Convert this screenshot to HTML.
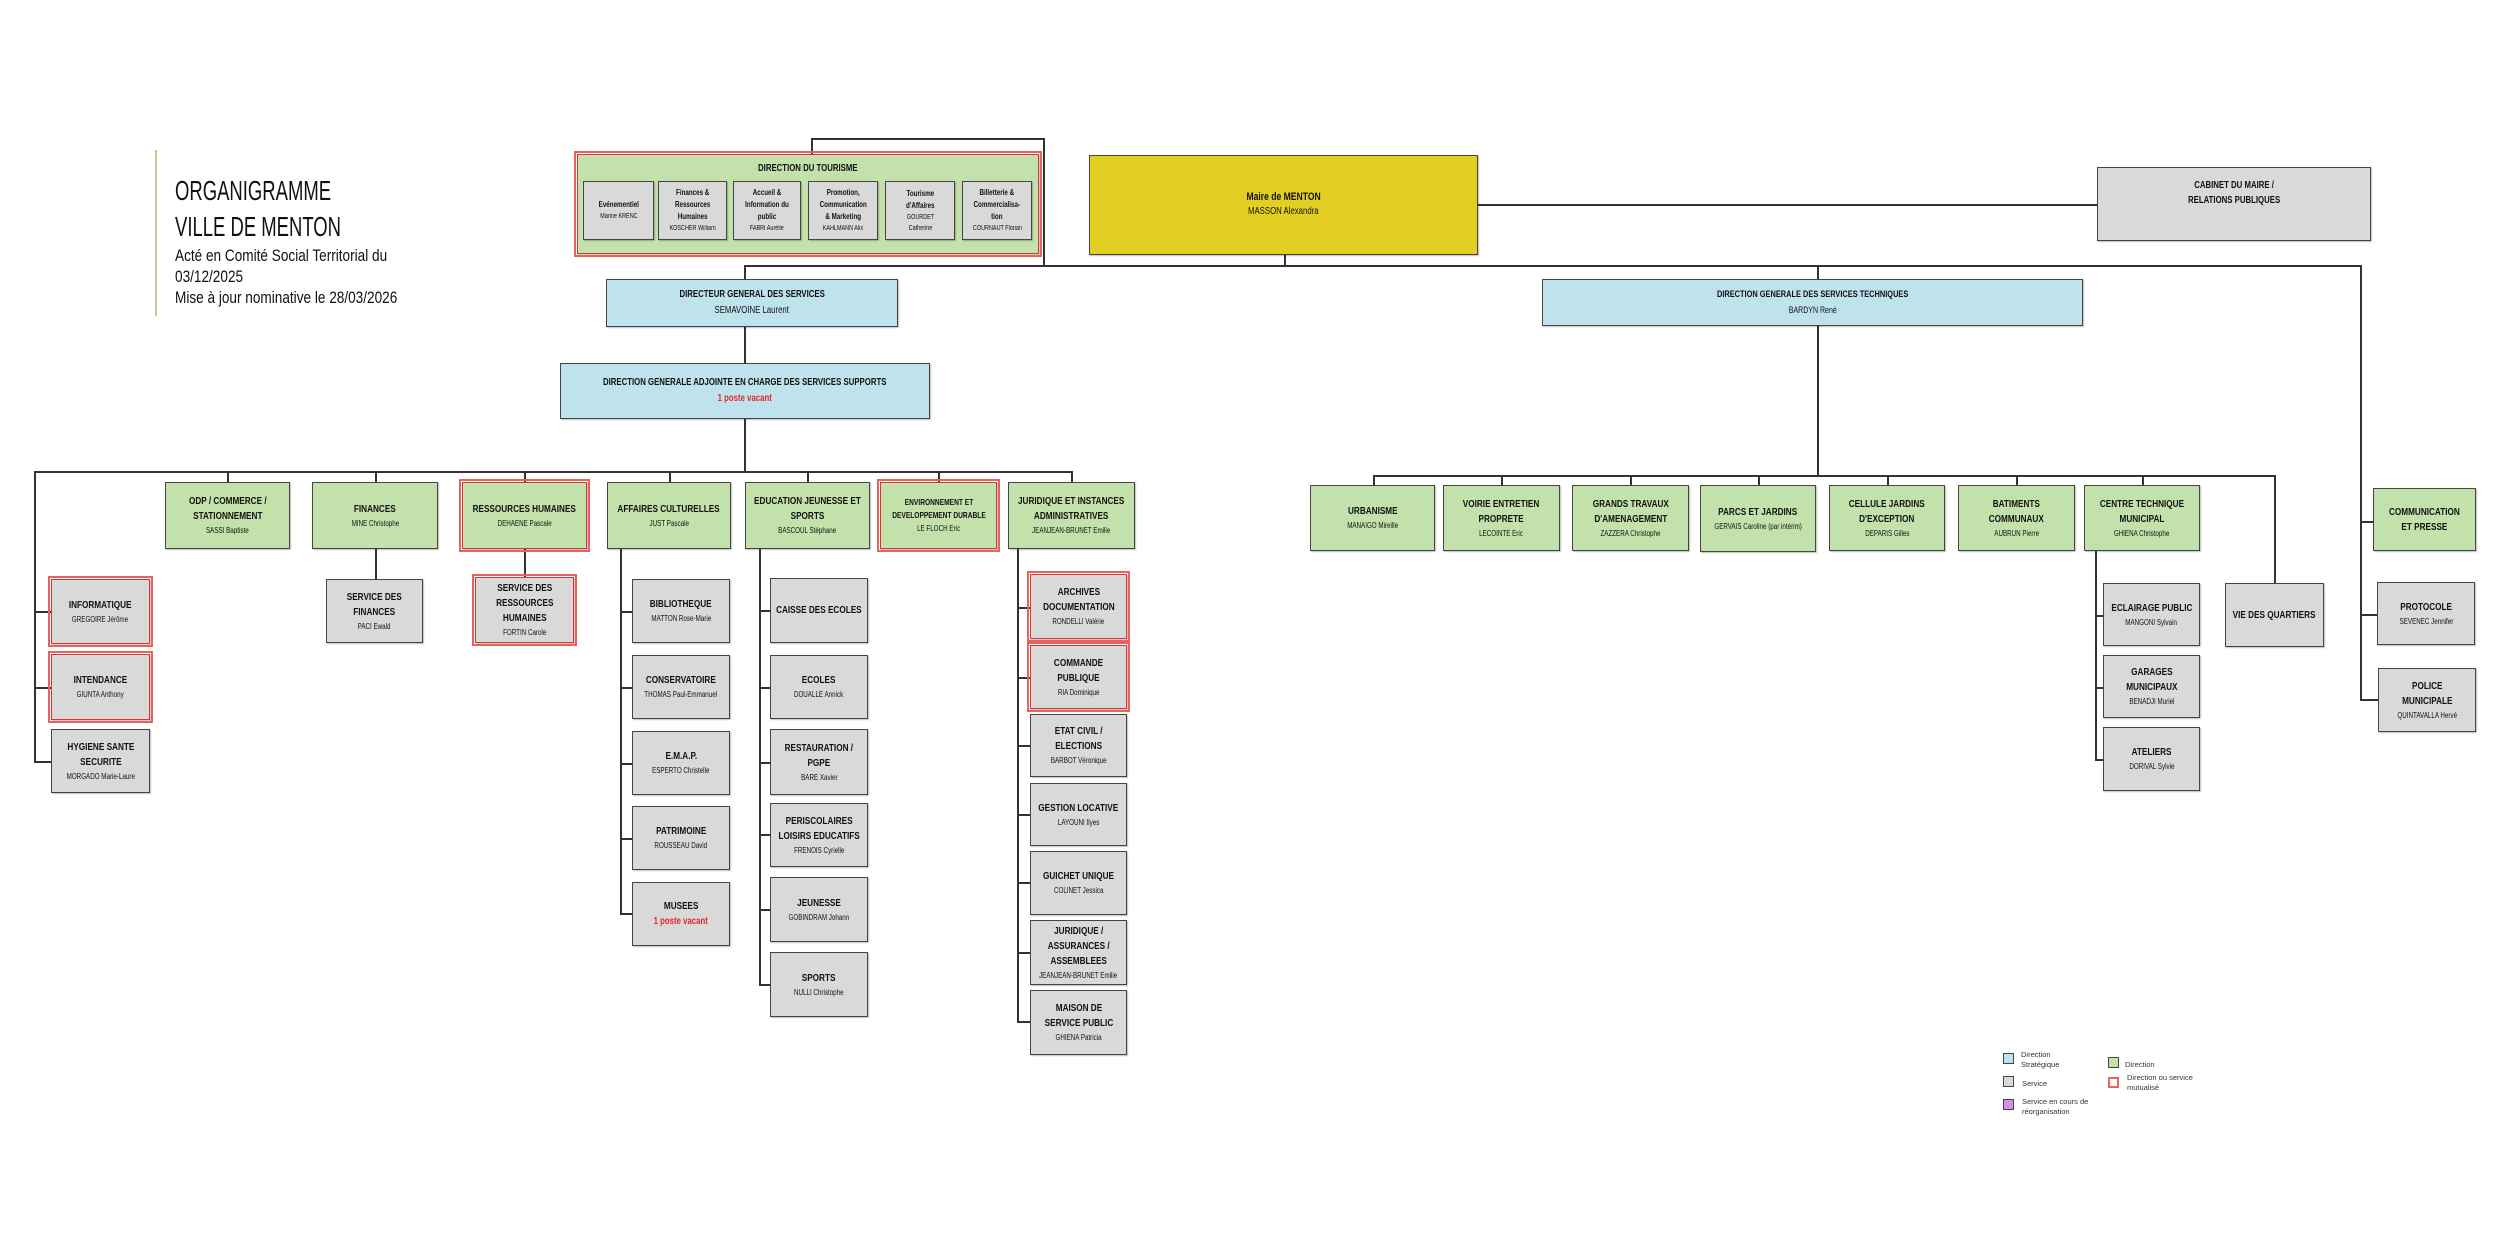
<!DOCTYPE html>
<html><head><meta charset="utf-8">
<style>
body{margin:0;width:2500px;height:1250px;background:#fff;position:relative;overflow:hidden;font-family:"Liberation Sans",sans-serif;color:#111}
.b{position:absolute;display:flex;flex-direction:column;justify-content:center;align-items:center;text-align:center;border:1.5px solid #444;box-sizing:border-box;box-shadow:1px 1px 1px rgba(0,0,0,.25)}
.b>div{white-space:nowrap;transform:scaleX(.78);transform-origin:center}
.g{background:#c3e2ab}.s{background:#d9d9d9}.bl{background:#bfe3ec}
.r{outline:2px solid #e8625f;outline-offset:1px;border-color:#d33}
.t{font-weight:bold;font-size:10.5px;line-height:15px}
.n{font-size:8px;line-height:13px}
.v{color:#e3262b;font-weight:bold;font-size:10px;line-height:15px}
.h{position:absolute;height:1.5px;background:#333}
.w{position:absolute;width:1.5px;background:#333}
.lg{position:absolute;width:11px;height:11px;border:1.5px solid #444;box-sizing:border-box}
.lt{position:absolute;font-family:"Liberation Sans",sans-serif;font-size:7.5px;line-height:10px;color:#333}
.ti{position:absolute;left:175px;white-space:nowrap;transform-origin:left top}
</style></head><body>
<!-- title -->
<div style="position:absolute;left:155px;top:150px;width:2px;height:166px;background:#b5d38a"></div>
<div class="ti" style="top:173px;font-size:28px;line-height:36px;transform:scaleX(.66)">ORGANIGRAMME<br>VILLE DE MENTON</div>
<div class="ti" style="top:245px;font-size:17px;line-height:21px;transform:scaleX(.8)">Acté en Comité Social Territorial du<br>03/12/2025<br>Mise à jour nominative le 28/03/2026</div>

<!-- connectors top -->
<div class="w" style="left:811px;top:138px;height:17px"></div>
<div class="h" style="left:811px;top:138px;width:233px"></div>
<div class="w" style="left:1043px;top:138px;height:128px"></div>
<div class="h" style="left:744px;top:265px;width:1617px"></div>
<div class="w" style="left:1284px;top:255px;height:11px"></div>
<div class="h" style="left:1478px;top:204px;width:620px"></div>
<div class="w" style="left:744px;top:265px;height:14px"></div>
<div class="w" style="left:744px;top:327px;height:36px"></div>
<div class="w" style="left:744px;top:419px;height:53px"></div>
<div class="w" style="left:1817px;top:265px;height:14px"></div>
<div class="w" style="left:1817px;top:326px;height:150px"></div>
<div class="w" style="left:2360px;top:265px;height:435px"></div>

<!-- tourism -->
<div class="b g r" style="left:577px;top:154px;width:462px;height:100px;justify-content:flex-start"><div class="t" style="margin-top:6px;font-size:10px">DIRECTION DU TOURISME</div></div>
<div class="b s" style="left:583px;top:181px;width:71px;height:59px"><div class="t" style="font-size:8px;line-height:12px">Evénementiel</div><div class="n" style="font-size:7px;line-height:11px">Marine KRENC</div></div>
<div class="b s" style="left:658px;top:181px;width:69px;height:59px"><div class="t" style="font-size:8px;line-height:12px">Finances &amp;<br>Ressources<br>Humaines</div><div class="n" style="font-size:7px;line-height:11px">KOSCHER William</div></div>
<div class="b s" style="left:733px;top:181px;width:68px;height:59px"><div class="t" style="font-size:8px;line-height:12px">Accueil &amp;<br>Information du<br>public</div><div class="n" style="font-size:7px;line-height:11px">FABRI Aurélie</div></div>
<div class="b s" style="left:808px;top:181px;width:70px;height:59px"><div class="t" style="font-size:8px;line-height:12px">Promotion,<br>Communication<br>&amp; Marketing</div><div class="n" style="font-size:7px;line-height:11px">KAHLMANN Alix</div></div>
<div class="b s" style="left:885px;top:181px;width:70px;height:59px"><div class="t" style="font-size:8px;line-height:12px">Tourisme<br>d'Affaires</div><div class="n" style="font-size:7px;line-height:11px">GOURDET<br>Catherine</div></div>
<div class="b s" style="left:962px;top:181px;width:70px;height:59px"><div class="t" style="font-size:8px;line-height:12px">Billetterie &amp;<br>Commercialisa-<br>tion</div><div class="n" style="font-size:7px;line-height:11px">COURNAUT Florian</div></div>

<!-- mayor -->
<div class="b" style="left:1089px;top:155px;width:389px;height:100px;background:#e3cf22;justify-content:flex-start"><div class="t" style="font-size:11px;margin-top:34px">Maire de MENTON</div><div class="n" style="font-size:10px;line-height:14px">MASSON Alexandra</div></div>
<div class="b s" style="left:2097px;top:167px;width:274px;height:74px;justify-content:flex-start"><div class="t" style="font-size:10px;margin-top:10px">CABINET DU MAIRE /<br>RELATIONS PUBLIQUES</div></div>

<div class="b bl" style="left:606px;top:279px;width:292px;height:48px"><div class="t" style="font-size:10px">DIRECTEUR GENERAL DES SERVICES</div><div class="n" style="font-size:10px;line-height:17px">SEMAVOINE Laurent</div></div>
<div class="b bl" style="left:560px;top:363px;width:370px;height:56px"><div class="t" style="font-size:10px">DIRECTION GENERALE ADJOINTE EN CHARGE DES SERVICES SUPPORTS</div><div class="v" style="line-height:18px">1 poste vacant</div></div>
<div class="b bl" style="left:1542px;top:279px;width:541px;height:47px"><div class="t" style="font-size:9.5px">DIRECTION GENERALE DES SERVICES TECHNIQUES</div><div class="n" style="font-size:9px;line-height:16px">BARDYN René</div></div>

<!-- supports row -->
<div class="h" style="left:34px;top:471px;width:1038px"></div>
<div class="w" style="left:34px;top:471px;height:291px"></div>
<div class="h" style="left:34px;top:611px;width:17px"></div>
<div class="h" style="left:34px;top:687px;width:17px"></div>
<div class="h" style="left:34px;top:761px;width:17px"></div>
<div class="w" style="left:227px;top:471px;height:11px"></div>
<div class="w" style="left:375px;top:471px;height:108px"></div>
<div class="w" style="left:524px;top:471px;height:106px"></div>
<div class="w" style="left:669px;top:471px;height:11px"></div>
<div class="w" style="left:807px;top:471px;height:11px"></div>
<div class="w" style="left:938px;top:471px;height:11px"></div>
<div class="w" style="left:1071px;top:471px;height:11px"></div>

<div class="b g" style="left:165px;top:482px;width:125px;height:67px"><div class="t">ODP / COMMERCE /<br>STATIONNEMENT</div><div class="n">SASSI Baptiste</div></div>
<div class="b g" style="left:312px;top:482px;width:126px;height:67px"><div class="t">FINANCES</div><div class="n">MINE Christophe</div></div>
<div class="b g r" style="left:462px;top:482px;width:125px;height:67px"><div class="t">RESSOURCES HUMAINES</div><div class="n">DEHAENE Pascale</div></div>
<div class="b g" style="left:607px;top:482px;width:124px;height:67px"><div class="t">AFFAIRES CULTURELLES</div><div class="n">JUST Pascale</div></div>
<div class="b g" style="left:745px;top:482px;width:125px;height:67px"><div class="t">EDUCATION JEUNESSE ET<br>SPORTS</div><div class="n">BASCOUL Stéphane</div></div>
<div class="b g r" style="left:880px;top:482px;width:117px;height:67px"><div class="t" style="font-size:8.5px;line-height:13px">ENVIRONNEMENT ET<br>DEVELOPPEMENT DURABLE</div><div class="n">LE FLOCH Eric</div></div>
<div class="b g" style="left:1008px;top:482px;width:127px;height:67px"><div class="t">JURIDIQUE ET INSTANCES<br>ADMINISTRATIVES</div><div class="n">JEANJEAN-BRUNET Emilie</div></div>

<div class="b s r" style="left:51px;top:579px;width:99px;height:65px"><div class="t">INFORMATIQUE</div><div class="n">GREGOIRE Jérôme</div></div>
<div class="b s r" style="left:51px;top:654px;width:99px;height:66px"><div class="t">INTENDANCE</div><div class="n">GIUNTA Anthony</div></div>
<div class="b s" style="left:51px;top:729px;width:99px;height:64px"><div class="t">HYGIENE SANTE<br>SECURITE</div><div class="n">MORGADO Marie-Laure</div></div>
<div class="b s" style="left:326px;top:579px;width:97px;height:64px"><div class="t">SERVICE DES<br>FINANCES</div><div class="n">PACI Ewald</div></div>
<div class="b s r" style="left:475px;top:577px;width:99px;height:66px"><div class="t">SERVICE DES<br>RESSOURCES<br>HUMAINES</div><div class="n">FORTIN Carole</div></div>

<!-- AC -->
<div class="w" style="left:620px;top:549px;height:365px"></div>
<div class="h" style="left:620px;top:611px;width:12px"></div>
<div class="h" style="left:620px;top:687px;width:12px"></div>
<div class="h" style="left:620px;top:763px;width:12px"></div>
<div class="h" style="left:620px;top:838px;width:12px"></div>
<div class="h" style="left:620px;top:913px;width:12px"></div>
<div class="b s" style="left:632px;top:579px;width:98px;height:64px"><div class="t">BIBLIOTHEQUE</div><div class="n">MATTON Rose-Marie</div></div>
<div class="b s" style="left:632px;top:655px;width:98px;height:64px"><div class="t">CONSERVATOIRE</div><div class="n">THOMAS Paul-Emmanuel</div></div>
<div class="b s" style="left:632px;top:731px;width:98px;height:64px"><div class="t">E.M.A.P.</div><div class="n">ESPERTO Christelle</div></div>
<div class="b s" style="left:632px;top:806px;width:98px;height:64px"><div class="t">PATRIMOINE</div><div class="n">ROUSSEAU David</div></div>
<div class="b s" style="left:632px;top:882px;width:98px;height:64px"><div class="t">MUSEES</div><div class="v">1 poste vacant</div></div>

<!-- EJS -->
<div class="w" style="left:759px;top:549px;height:435px"></div>
<div class="h" style="left:759px;top:610px;width:11px"></div>
<div class="h" style="left:759px;top:687px;width:11px"></div>
<div class="h" style="left:759px;top:762px;width:11px"></div>
<div class="h" style="left:759px;top:834px;width:11px"></div>
<div class="h" style="left:759px;top:909px;width:11px"></div>
<div class="h" style="left:759px;top:984px;width:11px"></div>
<div class="b s" style="left:770px;top:578px;width:98px;height:65px"><div class="t">CAISSE DES ECOLES</div></div>
<div class="b s" style="left:770px;top:655px;width:98px;height:64px"><div class="t">ECOLES</div><div class="n">DOUALLE Annick</div></div>
<div class="b s" style="left:770px;top:729px;width:98px;height:66px"><div class="t">RESTAURATION /<br>PGPE</div><div class="n">BARE Xavier</div></div>
<div class="b s" style="left:770px;top:803px;width:98px;height:64px"><div class="t">PERISCOLAIRES<br>LOISIRS EDUCATIFS</div><div class="n">FRENOIS Cyrielle</div></div>
<div class="b s" style="left:770px;top:877px;width:98px;height:65px"><div class="t">JEUNESSE</div><div class="n">GOBINDRAM Johann</div></div>
<div class="b s" style="left:770px;top:952px;width:98px;height:65px"><div class="t">SPORTS</div><div class="n">NULLI Christophe</div></div>

<!-- JUR -->
<div class="w" style="left:1017px;top:549px;height:473px"></div>
<div class="h" style="left:1017px;top:607px;width:13px"></div>
<div class="h" style="left:1017px;top:677px;width:13px"></div>
<div class="h" style="left:1017px;top:745px;width:13px"></div>
<div class="h" style="left:1017px;top:814px;width:13px"></div>
<div class="h" style="left:1017px;top:882px;width:13px"></div>
<div class="h" style="left:1017px;top:952px;width:13px"></div>
<div class="h" style="left:1017px;top:1021px;width:13px"></div>
<div class="b s r" style="left:1030px;top:574px;width:97px;height:65px"><div class="t">ARCHIVES<br>DOCUMENTATION</div><div class="n">RONDELLI Valérie</div></div>
<div class="b s r" style="left:1030px;top:645px;width:97px;height:64px"><div class="t">COMMANDE<br>PUBLIQUE</div><div class="n">RIA Dominique</div></div>
<div class="b s" style="left:1030px;top:714px;width:97px;height:63px"><div class="t">ETAT CIVIL /<br>ELECTIONS</div><div class="n">BARBOT Véronique</div></div>
<div class="b s" style="left:1030px;top:783px;width:97px;height:63px"><div class="t">GESTION LOCATIVE</div><div class="n">LAYOUNI Ilyes</div></div>
<div class="b s" style="left:1030px;top:851px;width:97px;height:64px"><div class="t">GUICHET UNIQUE</div><div class="n">COLINET Jessica</div></div>
<div class="b s" style="left:1030px;top:920px;width:97px;height:65px"><div class="t">JURIDIQUE /<br>ASSURANCES /<br>ASSEMBLEES</div><div class="n">JEANJEAN-BRUNET Emilie</div></div>
<div class="b s" style="left:1030px;top:990px;width:97px;height:65px"><div class="t">MAISON DE<br>SERVICE PUBLIC</div><div class="n">GHIENA Patricia</div></div>

<!-- Technique row -->
<div class="h" style="left:1373px;top:475px;width:902px"></div>
<div class="w" style="left:1373px;top:475px;height:10px"></div>
<div class="w" style="left:1501px;top:475px;height:10px"></div>
<div class="w" style="left:1630px;top:475px;height:10px"></div>
<div class="w" style="left:1758px;top:475px;height:10px"></div>
<div class="w" style="left:1887px;top:475px;height:10px"></div>
<div class="w" style="left:2016px;top:475px;height:10px"></div>
<div class="w" style="left:2142px;top:475px;height:10px"></div>
<div class="w" style="left:2274px;top:475px;height:108px"></div>
<div class="b g" style="left:1310px;top:485px;width:125px;height:66px"><div class="t">URBANISME</div><div class="n">MANAIGO Mireille</div></div>
<div class="b g" style="left:1443px;top:485px;width:117px;height:66px"><div class="t">VOIRIE ENTRETIEN<br>PROPRETE</div><div class="n">LECOINTE Eric</div></div>
<div class="b g" style="left:1572px;top:485px;width:117px;height:66px"><div class="t">GRANDS TRAVAUX<br>D'AMENAGEMENT</div><div class="n">ZAZZERA Christophe</div></div>
<div class="b g" style="left:1700px;top:485px;width:116px;height:67px"><div class="t">PARCS ET JARDINS</div><div class="n">GERVAIS Caroline (par intérim)</div></div>
<div class="b g" style="left:1829px;top:485px;width:116px;height:66px"><div class="t">CELLULE JARDINS<br>D'EXCEPTION</div><div class="n">DEPARIS Gilles</div></div>
<div class="b g" style="left:1958px;top:485px;width:117px;height:66px"><div class="t">BATIMENTS<br>COMMUNAUX</div><div class="n">AUBRUN Pierre</div></div>
<div class="b g" style="left:2084px;top:485px;width:116px;height:66px"><div class="t">CENTRE TECHNIQUE<br>MUNICIPAL</div><div class="n">GHIENA Christophe</div></div>

<div class="w" style="left:2095px;top:551px;height:209px"></div>
<div class="h" style="left:2095px;top:615px;width:8px"></div>
<div class="h" style="left:2095px;top:687px;width:8px"></div>
<div class="h" style="left:2095px;top:759px;width:8px"></div>
<div class="b s" style="left:2103px;top:583px;width:97px;height:63px"><div class="t">ECLAIRAGE PUBLIC</div><div class="n">MANGONI Sylvain</div></div>
<div class="b s" style="left:2103px;top:655px;width:97px;height:63px"><div class="t">GARAGES<br>MUNICIPAUX</div><div class="n">BENADJI Muriel</div></div>
<div class="b s" style="left:2103px;top:727px;width:97px;height:64px"><div class="t">ATELIERS</div><div class="n">DORIVAL Sylvie</div></div>
<div class="b s" style="left:2225px;top:583px;width:99px;height:64px"><div class="t">VIE DES QUARTIERS</div></div>

<!-- right column -->
<div class="h" style="left:2360px;top:521px;width:13px"></div>
<div class="h" style="left:2360px;top:614px;width:17px"></div>
<div class="h" style="left:2360px;top:699px;width:18px"></div>
<div class="b g" style="left:2373px;top:488px;width:103px;height:63px"><div class="t">COMMUNICATION<br>ET PRESSE</div></div>
<div class="b s" style="left:2377px;top:582px;width:98px;height:63px"><div class="t">PROTOCOLE</div><div class="n">SEVENEC Jennifer</div></div>
<div class="b s" style="left:2378px;top:668px;width:98px;height:64px"><div class="t">POLICE<br>MUNICIPALE</div><div class="n">QUINTAVALLA Hervé</div></div>

<!-- legend -->
<div class="lg" style="left:2003px;top:1053px;background:#bfe3ec"></div>
<div class="lt" style="left:2021px;top:1050px">Direction<br>Stratégique</div>
<div class="lg" style="left:2003px;top:1076px;background:#d9d9d9"></div>
<div class="lt" style="left:2022px;top:1079px">Service</div>
<div class="lg" style="left:2003px;top:1099px;background:#d58ff0"></div>
<div class="lt" style="left:2022px;top:1097px">Service en cours de<br>réorganisation</div>
<div class="lg" style="left:2108px;top:1057px;background:#c3e2ab"></div>
<div class="lt" style="left:2125px;top:1060px">Direction</div>
<div class="lg" style="left:2108px;top:1077px;background:#fff;border:2.5px solid #e8625f"></div>
<div class="lt" style="left:2127px;top:1073px">Direction ou service<br>mutualisé</div>
</body></html>
